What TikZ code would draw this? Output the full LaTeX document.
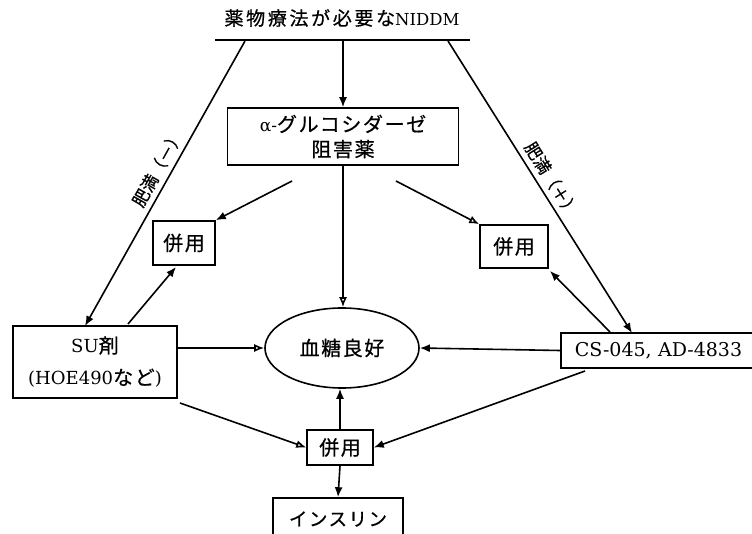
\documentclass[tikz,border=0pt]{standalone}
\usepackage{fontspec}
\setmainfont{DejaVu Serif}
\newfontfamily\cjk{Noto Sans CJK JP}[LetterSpace=8, FakeBold=0.6]
\newfontfamily\cjkt{Noto Sans CJK JP}[LetterSpace=14, FakeBold=0.6]
\newfontfamily\cjkl{Noto Sans CJK JP}[FakeBold=0.6]
\usetikzlibrary{arrows.meta,shapes.geometric}
\begin{document}
\begin{tikzpicture}[x=1pt,y=-1pt,
  every node/.style={inner sep=0pt, font=\fontsize{18}{22}\selectfont},
  box/.style={draw, line width=1.6pt, rectangle, align=center},
  conn/.style={line width=1.6pt},
  arr/.style={conn, -{Latex[length=10pt,width=8pt]}},
  oarr/.style={conn, -{Latex[open,length=10pt,width=8pt]}},
  jp/.style={font=\cjk\fontsize{20}{22}\selectfont},
  lbl/.style={font=\cjkl\fontsize{17}{18}\selectfont}]
\useasboundingbox (0,0) rectangle (752,534);
\clip (0,0) rectangle (752,534);
% nodes
\node[font=\fontsize{16.5}{22}\selectfont] (title) at (342,18) {{\cjkt\fontsize{19}{22}\selectfont 薬物療法が必要な}NIDDM};
\coordinate (ul) at (215,40);
\coordinate (ur) at (470,40);
\coordinate (tA) at (245,41);
\coordinate (tB) at (448,41);
\coordinate (tC) at (343,41);
\node[box, minimum width=231pt, minimum height=57pt, font=\fontsize{17}{25}\selectfont] (alpha) at (343,136.5)
  {α-{\cjk\fontsize{20}{25}\selectfont グルコシダーゼ}\\{\cjk\fontsize{20}{25}\selectfont 阻害薬}};
\node[box, jp, minimum width=62pt, minimum height=44pt] (pl) at (184,243) {併用};
\node[box, jp, minimum width=68pt, minimum height=43pt] (pr) at (514,246.5) {併用};
\node[box, minimum width=164pt, minimum height=72pt, font=\fontsize{18}{32}\selectfont] (su) at (95,362)
  {SU{\cjk\fontsize{20}{32}\selectfont 剤}\\(HOE490{\cjk\fontsize{20}{32}\selectfont など})};
\node[box, anchor=west, minimum height=35pt, text width=230pt, align=left, inner xsep=14pt, font=\fontsize{19}{22}\selectfont] (cs) at (560,350.5)
  {CS-045, AD-4833};
\node[draw, ellipse, line width=1.6pt, minimum width=154pt, minimum height=80pt, font=\cjk\fontsize{20}{22}\selectfont] (bg) at (342,348) {血糖良好};
\node[box, jp, minimum width=66pt, minimum height=35pt] (pb) at (340,447.5) {併用};
\node[box, minimum width=130pt, minimum height=42pt, font=\cjk\fontsize{18.5}{22}\selectfont] (ins) at (338,519) {インスリン};
% connector end points
\coordinate (suT) at (85,326);
\coordinate (csT) at (632,333);
\coordinate (aL) at (292,181);
\coordinate (aR) at (396,181);
\coordinate (suA) at (128,324);
\coordinate (plB) at (176,267);
\coordinate (csA) at (610,332);
\coordinate (prB) at (550,271);
\coordinate (suB) at (180,403);
\coordinate (csB) at (585,371);
% connectors
\draw[conn] (ul) -- (ur);
\draw[arr] (tC) -- (tC |- alpha.north);
\draw[arr] (tA) -- (suT) node[lbl, pos=0.47, sloped, above=5pt] {肥満（－）};
\draw[arr] (tB) -- (csT) node[lbl, pos=0.5, sloped, above=5pt] {肥満（＋）};
\draw[arr] (aL) -- (pl.north east);
\draw[oarr] (aR) -- (pr.north west);
\draw[oarr] (tC |- alpha.south) -- (tC |- bg.north);
\draw[arr] (suA) -- (plB);
\draw[arr] (csA) -- (prB);
\draw[oarr] (su.east |- bg.west) -- (bg.west);
\draw[arr] (cs.west) -- (bg.east);
\draw[oarr] (suB) -- (pb.west);
\draw[arr] (csB) -- (pb.east);
\draw[arr] (pb.north) -- (pb.north |- bg.south);
\draw[arr] (pb.south) -- (ins.north);
\end{tikzpicture}
\end{document}
